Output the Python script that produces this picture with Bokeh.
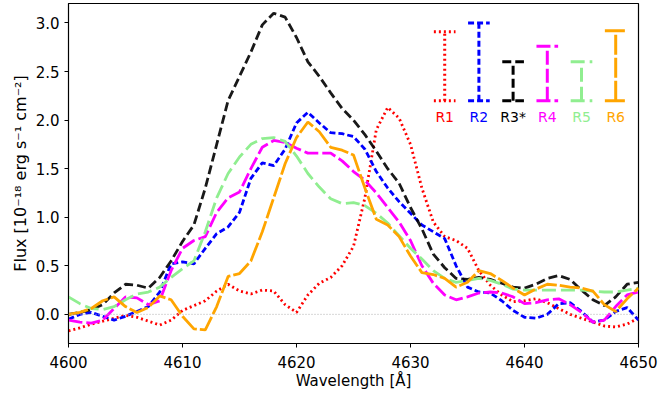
import numpy as np
from bokeh.plotting import figure
from bokeh.models import ColumnDataSource, Range1d, FixedTicker, Span, CustomJSTickFormatter
from bokeh.core.properties import value
from bokeh.embed import file_html
from bokeh.resources import INLINE

wavelength = list(range(4600, 4651))

r1 = [-0.17, -0.14, -0.10, -0.07, -0.04, -0.01, -0.03, -0.07, -0.11, -0.06,
      0.04, 0.09, 0.14, 0.24, 0.31, 0.24, 0.21, 0.25, 0.24, 0.10,
      0.02, 0.20, 0.32, 0.38, 0.50, 0.70, 1.20, 1.90, 2.13, 2.02,
      1.75, 1.30, 0.95, 0.80, 0.76, 0.68, 0.45, 0.30, 0.20, 0.13,
      0.14, 0.16, 0.12, 0.06, 0.00, -0.04, -0.08, -0.12, -0.13, -0.10, -0.04]
r2 = [-0.05, 0.00, 0.02, -0.02, -0.06, -0.02, 0.03, 0.08, 0.23, 0.52,
      0.54, 0.52, 0.68, 0.83, 0.90, 1.05, 1.40, 1.56, 1.53, 1.70,
      1.97, 2.08, 1.97, 1.87, 1.86, 1.83, 1.70, 1.47, 1.30, 1.16,
      1.04, 0.92, 0.85, 0.78, 0.50, 0.28, 0.23, 0.22, 0.14, 0.04,
      -0.03, -0.04, 0.00, 0.11, 0.12, 0.03, -0.08, -0.06, 0.03, 0.07, -0.06]
r3 = [0.00, 0.02, 0.05, 0.10, 0.22, 0.31, 0.30, 0.27, 0.38, 0.55,
      0.75, 0.92, 1.30, 1.75, 2.20, 2.45, 2.70, 2.98, 3.10, 3.06,
      2.85, 2.60, 2.45, 2.28, 2.12, 2.00, 1.85, 1.68, 1.50, 1.35,
      1.10, 0.88, 0.62, 0.48, 0.37, 0.36, 0.38, 0.36, 0.32, 0.28,
      0.27, 0.31, 0.37, 0.40, 0.36, 0.25, 0.15, 0.09, 0.18, 0.31, 0.33]
r4 = [-0.06, -0.08, -0.09, -0.06, 0.06, 0.18, 0.17, 0.10, 0.14, 0.45,
      0.68, 0.76, 0.80, 1.05, 1.20, 1.26, 1.50, 1.72, 1.79, 1.77,
      1.71, 1.66, 1.66, 1.66, 1.58, 1.47, 1.38, 1.25, 1.10, 0.95,
      0.76, 0.50, 0.32, 0.20, 0.15, 0.18, 0.22, 0.23, 0.22, 0.18,
      0.11, 0.12, 0.15, 0.16, 0.10, 0.02, -0.08, -0.06, 0.08, 0.20, 0.23]
r5 = [0.18, 0.11, 0.06, 0.05, 0.08, 0.15, 0.21, 0.23, 0.28, 0.38,
      0.47, 0.55, 0.85, 1.20, 1.45, 1.62, 1.75, 1.81, 1.82, 1.78,
      1.63, 1.45, 1.31, 1.19, 1.14, 1.15, 1.12, 1.04, 0.94, 0.81,
      0.68, 0.57, 0.45, 0.37, 0.33, 0.35, 0.37, 0.35, 0.31, 0.26,
      0.25, 0.25, 0.25, 0.25, 0.25, 0.25, 0.24, 0.23, 0.23, 0.25, 0.27]
r6 = [0.00, 0.02, 0.06, 0.14, 0.18, 0.08, 0.02, 0.07, 0.19, 0.15,
      -0.02, -0.15, -0.16, 0.08, 0.39, 0.42, 0.55, 0.85, 1.20, 1.55,
      1.82, 1.98, 1.88, 1.72, 1.69, 1.64, 1.30, 0.98, 0.92, 0.80,
      0.60, 0.43, 0.41, 0.37, 0.28, 0.33, 0.45, 0.42, 0.35, 0.27,
      0.20, 0.26, 0.31, 0.30, 0.28, 0.27, 0.24, 0.10, 0.03, 0.16, 0.27]

names = ["R1", "R2", "R3*", "R4", "R5", "R6"]
series = [r1, r2, r3, r4, r5, r6]
colors = ["red", "blue", "black", "magenta", "lightgreen", "orange"]
dashes = ["2 3", "6 3", "9 4", "14 4", "14 5", "20 3"]

# error-bar key (upper right)
err_x = [4633, 4636, 4639, 4642, 4645, 4648]
err_half = [0.355, 0.40, 0.20, 0.28, 0.20, 0.36]
err_base = 2.2
cap_half = 0.95
label_y = 2.03

x_ticks = [4600, 4610, 4620, 4630, 4640, 4650]
y_ticks = [0.0, 0.5, 1.0, 1.5, 2.0, 2.5, 3.0]

FONT = "DejaVu Sans"

p = figure(width=661, height=396, output_backend="svg", toolbar_location=None,
           x_range=Range1d(4600, 4650), y_range=Range1d(-0.3, 3.2),
           min_border_left=68, min_border_right=23, min_border_top=3,
           min_border_bottom=53)
p.grid.visible = False
p.background_fill_color = "white"
p.border_fill_color = "white"
p.outline_line_color = "black"
p.outline_line_width = 1.2

zero = Span(location=0, dimension="width", line_color="#b0b0b0",
            line_dash="1 2", line_width=1)
p.add_layout(zero)

for ys, c, d in zip(series, colors, dashes):
    src = ColumnDataSource(dict(x=wavelength, y=ys))
    p.line("x", "y", source=src, line_color=c, line_width=2.8,
           line_dash=d, line_alpha=0.9 if c == "black" else 1.0)

for xc, h, c, d, n in zip(err_x, err_half, colors, dashes, names):
    lo = err_base
    hi = err_base + 2 * h
    p.segment(x0=[xc], y0=[lo], x1=[xc], y1=[hi], line_color=c,
              line_width=3, line_dash=d)
    p.segment(x0=[xc - cap_half, xc - cap_half], y0=[lo, hi],
              x1=[xc + cap_half, xc + cap_half], y1=[lo, hi],
              line_color=c, line_width=3, line_dash=d)
    p.text(x=[xc], y=[label_y], text=[n], text_color=c,
           text_align="center", text_baseline="middle",
           text_font=value(FONT), text_font_size="14px")

p.xaxis.ticker = FixedTicker(ticks=x_ticks)
p.yaxis.ticker = FixedTicker(ticks=y_ticks)
p.yaxis.formatter = CustomJSTickFormatter(code="return tick.toFixed(1);")

for ax in (p.xaxis, p.yaxis):
    ax.major_label_text_font = FONT
    ax.major_label_text_font_size = "15px"
    ax.major_label_text_color = "black"
    ax.axis_label_text_font = FONT
    ax.axis_label_text_font_style = "normal"
    ax.axis_label_text_color = "black"
    ax.minor_tick_line_color = None
    ax.major_tick_out = 4
    ax.major_tick_in = 0
    ax.axis_line_color = "black"
    ax.major_tick_line_color = "black"

p.xaxis.axis_label = "Wavelength [Å]"
p.yaxis.axis_label = "Flux [10⁻¹⁸ erg s⁻¹ cm⁻²]"
p.xaxis.axis_label_text_font_size = "15px"
p.yaxis.axis_label_text_font_size = "16px"
p.xaxis.major_label_standoff = 8
p.xaxis.axis_label_standoff = 1
p.yaxis.axis_label_standoff = 3

open("out.html", "w").write(file_html(p, INLINE))
